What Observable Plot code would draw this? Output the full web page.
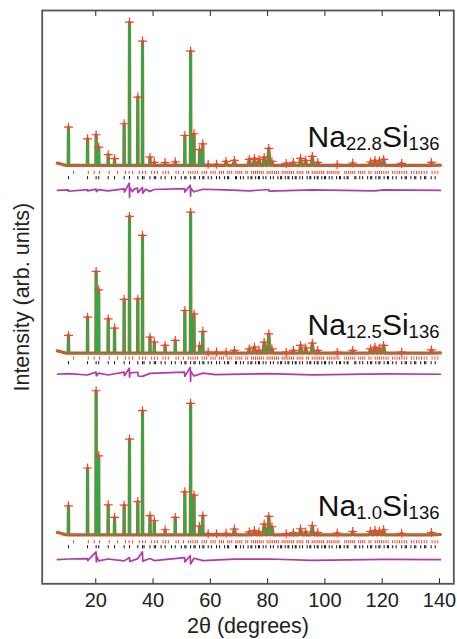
<!DOCTYPE html>
<html><head><meta charset="utf-8">
<script src="https://cdn.jsdelivr.net/npm/d3@7"></script>
<script src="https://cdn.jsdelivr.net/npm/@observablehq/plot@0.6"></script>
<style>body{margin:0;background:#fff} #chart svg{display:block}</style>
</head><body><div id="chart"></div>
<script>
// ---- data ----
const sampleNa = ["22.8", "12.5", "1.0"];
const sampleSi = "136";
const peakPos = [10.47, 17.14, 20.13, 21.03, 24.34, 26.56, 29.91, 31.78, 34.68, 36.32, 38.93, 40.43, 44.21, 47.75, 51.10, 53.12, 54.30, 56.24, 57.37, 59.25, 62.17, 65.5, 68.4, 73.6, 75.4, 77.0, 78.8, 80.4, 81.5, 86.5, 89.0, 91.5, 93.3, 95.6, 97.5, 104.3, 109.7, 115.9, 117.5, 119.0, 120.5, 126.8, 137.2];
const heightsNa228 = [26.7, 18.6, 21.4, 12.8, 7.5, 4.7, 29.1, 100, 47.7, 86.8, 5.8, 2.1, 2.0, 2.5, 20.9, 79.8, 22.1, 11.0, 15.1, 0.8, 0.8, 2.8, 3.5, 4.2, 4.9, 4.2, 5.6, 11.9, 2.8, 1.4, 2.1, 4.9, 3.5, 6.3, 2.1, 0.7, 1.7, 2.4, 3.5, 3.1, 4.2, 1.4, 2.1];
const heightsNa125 = [12.4, 25.1, 57.0, 44.2, 23.9, 17.5, 37.5, 95.4, 37.9, 82.2, 11.2, 7.7, 5.4, 8.9, 29.8, 98.4, 27.4, 5.0, 15.1, 0.8, 0.8, 0.7, 1.9, 3.0, 4.2, 2.0, 7.7, 13.5, 3.0, 0.7, 1.9, 5.4, 3.7, 7.0, 1.9, 0.7, 1.9, 3.0, 4.2, 3.5, 5.4, 0.7, 2.3];
const heightsNa10 = [20.2, 46.6, 100.5, 55.1, 20.9, 12.1, 20.7, 66.8, 23.2, 86.6, 13.3, 9.8, 3.5, 12.1, 30.0, 91.7, 27.7, 6.0, 13.3, 0.8, 0.8, 1.0, 4.0, 2.0, 3.0, 2.0, 7.5, 12.8, 5.6, 0.7, 1.5, 4.2, 2.0, 6.3, 1.5, 1.2, 2.3, 2.3, 3.0, 2.5, 3.5, 1.0, 1.6];
const lowAngleBackground = [[6.6, 1.6], [7.5, 1.2], [8.5, 0.6], [9.5, 0.1]];
const highAngleEnd = [[140.3, 0.2]];
const diffNa228 = [[6.6,0],[10.4,0.4],[10.5,-0.6],[17.1,0.5],[17.2,-0.4],[20.1,0.9],[20.2,-0.9],[21.0,0.5],[24.3,-0.4],[29.9,1.0],[30.0,-1.2],[31.7,5.0],[31.8,-5.0],[31.9,2.0],[32.8,-0.8],[33.5,1.0],[34.6,1.6],[34.7,-1.6],[36.3,2.0],[36.4,-2.0],[37.4,0.8],[38.9,-0.7],[40.4,0.6],[51.0,1.2],[51.1,-1.2],[53.0,3.6],[53.1,-4.0],[53.2,1.4],[54.3,-1.0],[57.4,0.8],[65.5,0.3],[73.6,-0.3],[80.4,0.6],[80.5,-0.5],[95.6,0.4],[117.5,-0.4],[120.5,0.4],[140.3,0]];
const diffNa125 = [[6.6,0],[10.5,0.4],[17.1,-0.5],[20.1,1.5],[20.2,-1.2],[21.0,0.8],[24.3,-0.5],[29.9,1.5],[30.0,-1.0],[31.7,4.2],[31.8,-2.0],[31.9,1.0],[34.7,1.4],[34.8,-1.2],[36.3,-1.5],[38.9,0.6],[51.0,1.5],[51.1,-1.5],[53.0,4.8],[53.1,-5.0],[53.2,2.0],[54.3,-1.2],[57.4,0.8],[62.0,-0.3],[80.4,0.5],[95.6,-0.4],[120.5,0.3],[140.3,0]];
const diffNa10 = [[6.6,0],[10.5,0.5],[17.1,0.8],[17.2,-0.6],[20.1,5.5],[20.2,-1.5],[20.3,2.5],[21.0,-0.8],[24.3,0.5],[29.9,-0.8],[31.8,1.5],[31.9,-1.2],[34.7,0.8],[36.3,5.5],[36.4,-1.0],[38.9,0.8],[40.4,-0.6],[51.0,1.5],[51.1,-1.5],[53.0,2.8],[53.1,-3.0],[54.3,1.0],[57.4,-0.6],[68.4,0.4],[80.4,0.5],[95.6,-0.4],[120.5,0.3],[140.3,0]];
// Bragg reflection positions (2θ): red row and black row
const braggRed = [12.27, 17.39, 19.46, 21.34, 24.69, 27.66, 30.37, 31.64, 32.86, 35.20, 36.32, 37.41, 39.52, 40.53, 41.53, 43.47, 44.42, 45.34, 48.04, 48.92, 50.63, 52.31, 53.13, 53.94, 54.75, 55.55, 57.12, 57.90, 58.67, 60.18, 60.94, 61.69, 63.16, 63.90, 64.62, 66.06, 66.78, 67.49, 68.90, 69.60, 70.30, 70.98, 72.36, 73.06, 74.42, 75.10, 75.78, 76.44, 77.12, 77.78, 78.46, 79.80, 80.46, 81.14, 81.78, 82.44, 83.10, 83.76, 85.08, 85.74, 86.40, 87.06, 87.70, 88.36, 89.02, 90.32, 90.98, 91.64, 92.30, 93.62, 94.26, 95.56, 96.24, 96.90, 97.54, 98.20, 98.88, 99.52, 100.86, 101.54, 102.22, 102.88, 103.54, 104.24, 104.90, 106.94, 107.62, 108.30, 109.00, 109.70, 110.40, 111.78, 112.50, 113.20, 113.92, 115.36, 116.08, 117.56, 118.30, 119.06, 119.80, 120.56, 121.34, 122.08, 123.64, 124.46, 125.24, 126.06, 126.88, 127.70, 128.54, 130.22, 131.06, 131.98, 132.84, 133.76, 134.66, 135.58, 137.42, 138.44, 139.42];
const braggBlack = [10.47, 17.14, 20.13, 21.03, 24.34, 26.56, 29.91, 31.78, 34.68, 36.32, 36.86, 38.93, 40.43, 40.91, 42.82, 44.21, 46.44, 47.75, 49.86, 51.10, 51.50, 53.12, 54.30, 54.69, 56.24, 57.37, 57.75, 59.25, 60.35, 62.17, 63.24, 65.00, 66.05, 66.40, 68.81, 69.16, 70.51, 71.52, 73.18, 74.18, 74.51, 75.83, 76.82, 77.14, 78.44, 79.41, 81.02, 82.00, 83.60, 84.56, 84.88, 86.14, 87.10, 87.42, 88.70, 89.64, 89.96, 91.24, 92.20, 93.80, 94.74, 95.06, 96.34, 97.30, 97.62, 98.92, 99.88, 100.22, 101.50, 102.48, 104.10, 105.10, 105.42, 106.74, 107.74, 108.08, 110.46, 110.80, 112.16, 113.20, 114.92, 115.98, 116.34, 117.78, 118.84, 119.22, 120.68, 121.82, 122.18, 123.68, 124.86, 126.80, 128.00, 128.44, 130.04, 131.32, 131.74, 133.46, 134.80, 135.24, 137.10, 138.50];
const xTicks = [20, 40, 60, 80, 100, 120, 140];

// ---- layout (vertical stacking in intensity units) ----
const layout = [
  {offset: 291.9, red: -5.2, black: -8.9, diff: -17.4},
  {offset: 160.9, red: -3.8, black: -7.0, diff: -14.7},
  {offset: 34.2,  red: -5.2, black: -8.7, diff: -17.4}
];
const patterns = [
  {sub: sampleNa[0], heights: heightsNa228, diff: diffNa228},
  {sub: sampleNa[1], heights: heightsNa125, diff: diffNa125},
  {sub: sampleNa[2], heights: heightsNa10, diff: diffNa10}
];
const RED = "#f0452a", GREEN = "#24b04a", MAGENTA = "#b03aa8";

const profileRows = [], spikeRows = [], topRows = [], diffRows = [], redTicks = [], blackTicks = [], labelRows = [];
patterns.forEach((p, i) => {
  const L = layout[i];
  const prof = [];
  lowAngleBackground.forEach(([x, y]) => prof.push({k: i, x, y: L.offset + y}));
  peakPos.forEach((pos, j) => {
    const w = pos < 60 ? 0.1 : 0.45;
    const h = p.heights[j];
    prof.push({k: i, x: pos - w, y: L.offset}, {k: i, x: pos, y: L.offset + h}, {k: i, x: pos + w, y: L.offset});
    spikeRows.push({x: pos, y1: L.offset, y2: L.offset + h});
    topRows.push({x: pos, y: L.offset + h});
  });
  highAngleEnd.forEach(([x, y]) => prof.push({k: i, x, y: L.offset + y}));
  prof.sort((a, b) => a.x - b.x);
  profileRows.push(...prof);
  p.diff.forEach(([x, v]) => diffRows.push({k: i, x, y: L.offset + L.diff + v}));
  braggRed.forEach(x => redTicks.push({x, y1: L.offset + L.red - 1.1, y2: L.offset + L.red + 1.1}));
  braggBlack.forEach(x => blackTicks.push({x, y1: L.offset + L.black - 1.1, y2: L.offset + L.black + 1.1}));
  labelRows.push({x: 140, y: L.offset + 13, text: "Na" + p.sub + "Si" + sampleSi, sub: p.sub});
});

const font = "'Liberation Sans', Arial, Helvetica, sans-serif";
const chart = Plot.plot({
  width: 457, height: 639,
  marginTop: 10, marginRight: 3.7, marginBottom: 55.7, marginLeft: 41.7,
  style: {fontFamily: font, background: "#fff", color: "#222", overflow: "visible"},
  x: {domain: [1.3, 145], axis: null},
  y: {domain: [0, 400], axis: null},
  marks: [
    Plot.line(diffRows, {x: "x", y: "y", z: "k", stroke: MAGENTA, strokeWidth: 1.7}),
    Plot.ruleX(redTicks, {x: "x", y1: "y1", y2: "y2", stroke: RED, strokeWidth: 1}),
    Plot.ruleX(blackTicks, {x: "x", y1: "y1", y2: "y2", stroke: "#111", strokeWidth: 1}),
    Plot.line(profileRows, {x: "x", y: "y", z: "k", stroke: RED, strokeWidth: 3.2, strokeLinejoin: "round"}),
    Plot.ruleX(spikeRows, {x: "x", y1: "y1", y2: "y2", stroke: GREEN, strokeWidth: 2.6}),
    Plot.line(profileRows, {x: "x", y: "y", z: "k", stroke: GREEN, strokeWidth: 0.8}),
    Plot.dot(topRows, {x: "x", y: "y", symbol: "plus", r: 3, stroke: RED, strokeWidth: 1.2}),
    Plot.text(labelRows, {x: "x", y: "y", text: "text", textAnchor: "end", lineAnchor: "bottom", fontSize: 30, fill: "#111", className: "sample-label"}),
    Plot.frame({stroke: "#555", strokeWidth: 1.8}),
    Plot.axisX(xTicks, {anchor: "bottom", tickSize: -5, tickPadding: 14, fontSize: 20, label: null}),
    Plot.axisX([], {anchor: "bottom", label: "2θ (degrees)", labelAnchor: "center", labelArrow: "none", labelOffset: 49, fontSize: 21.5}),
    Plot.axisX(xTicks, {anchor: "top", tickSize: -5, tickFormat: () => "", label: null}),
    Plot.axisY([], {anchor: "left", label: "Intensity (arb. units)", labelAnchor: "center", labelArrow: "none", labelOffset: 28, fontSize: 21.5})
  ]
});
chart.querySelectorAll("g.sample-label text").forEach((t, i) => {
  const r = labelRows[i];
  t.textContent = "";
  const parts = [["Na", null, 0], [r.sub, 18.5, 3], ["Si", 30, -3], [sampleSi, 18.5, 3]];
  for (const [s, fs, dy] of parts) {
    const ts = document.createElementNS("http://www.w3.org/2000/svg", "tspan");
    ts.textContent = s;
    if (fs) ts.setAttribute("font-size", fs);
    if (dy) ts.setAttribute("dy", dy);
    t.appendChild(ts);
  }
});
document.getElementById("chart").appendChild(chart);
</script>
</body></html>
